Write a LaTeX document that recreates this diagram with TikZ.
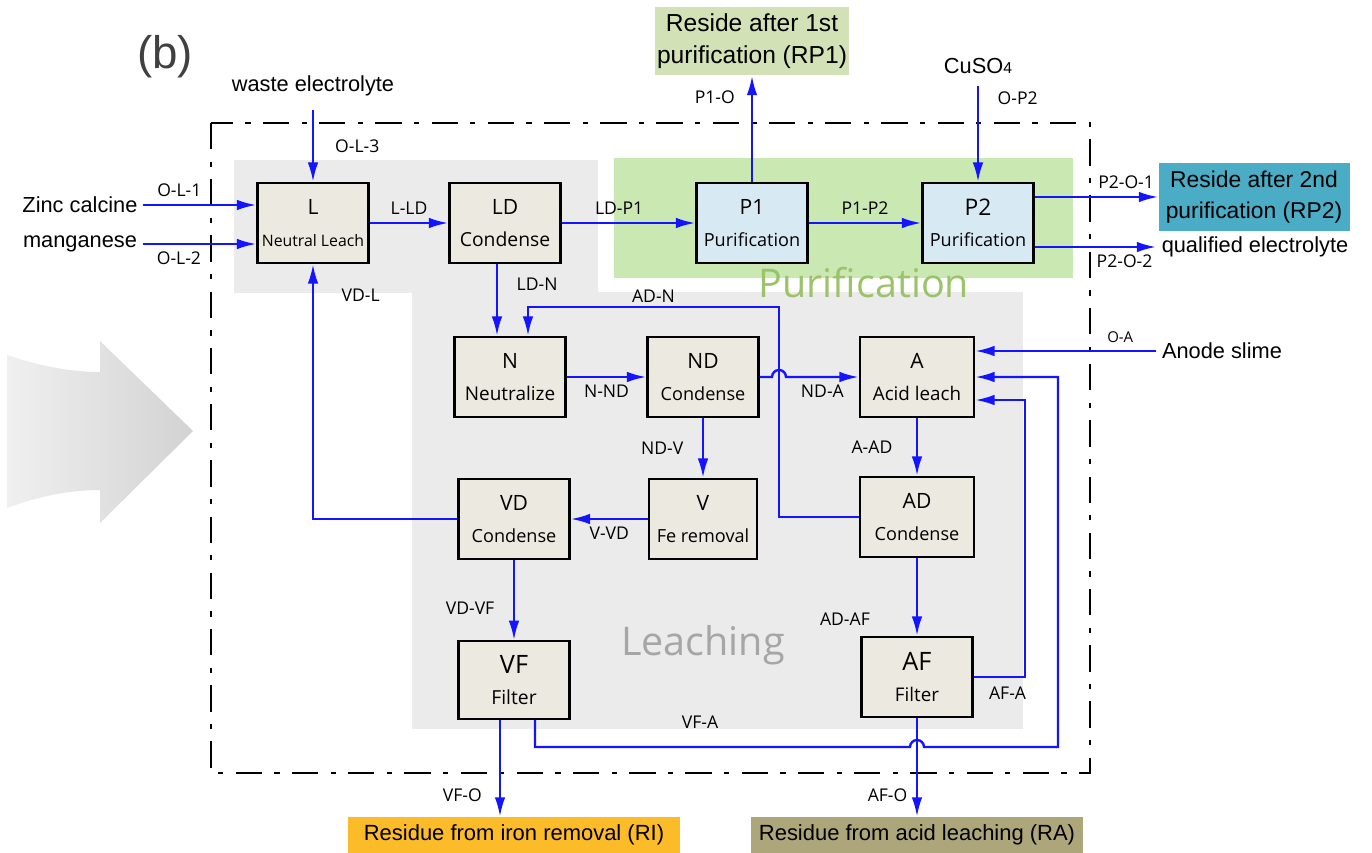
\documentclass[tikz,border=0pt]{standalone}
\usepackage{fontspec}
\setmainfont{Liberation Sans}
\newfontfamily\boxfont{Open Sans}
\usepackage{tikz}
\usetikzlibrary{arrows.meta,calc,positioning}
\definecolor{stagefill}{RGB}{236,233,224}
\definecolor{purfill}{RGB}{215,234,243}
\definecolor{regiongray}{RGB}{235,235,235}
\definecolor{regiongreen}{RGB}{201,232,178}
\definecolor{purtext}{RGB}{155,195,106}
\definecolor{leachtext}{RGB}{166,166,166}
\definecolor{rponefill}{RGB}{211,226,182}
\definecolor{rptwofill}{RGB}{75,172,198}
\definecolor{rifill}{RGB}{252,187,40}
\definecolor{rafill}{RGB}{173,166,122}
\definecolor{streamblue}{RGB}{20,20,255}

\begin{document}
\begin{tikzpicture}[x=0.02cm, y=-0.02cm, >={Latex[length=11pt,width=6pt]},
	stage/.style={draw=black, line width=1.4pt, fill=stagefill, minimum width=2.22cm, minimum height=1.6cm, align=center, inner sep=1pt, font=\boxfont\fontsize{10.3}{18}\selectfont},
	purstage/.style={stage, fill=purfill},
	stream/.style={->, draw=streamblue, line width=1.35pt},
	streamlabel/.style={font=\boxfont\fontsize{10}{12}\selectfont, inner sep=2pt},
	sidetext/.style={font=\fontsize{12.4}{15}\selectfont, inner sep=3pt},
	outbox/.style={align=center, inner sep=0pt, font=\fontsize{13}{18}\selectfont},
	residue/.style={minimum width=6.66cm, minimum height=0.72cm, inner sep=0pt, font=\fontsize{12.5}{15}\selectfont},
	region/.style={font=\boxfont\fontsize{22.5}{26}\selectfont, anchor=base}]
	\useasboundingbox (0,0) rectangle (1372,852);

	\shade[left color=gray!12, right color=gray!35] (7,355) .. controls (40,366) and (70,372) .. (100,372) -- (100,341) -- (193,431) -- (100,523) -- (100,490) .. controls (70,490) and (40,496) .. (7,508) -- cycle;

	\fill[regiongray] (234,160) rectangle (598,293);
	\fill[regiongray] (412,292) rectangle (1023,729);
	\fill[regiongreen] (614,158) rectangle (1073,278);
	\draw[line width=1.3pt, dash pattern=on 15pt off 7pt on 3pt off 7pt] (211,123) rectangle (1090,773);

	\node[region, text=purtext] (purlabel) at (864,297) {Purification};
	\node[region, text=leachtext] (leachlabel) at (703,655) {Leaching};
	\node[font=\fontsize{26}{30}\selectfont, text=black!75] (tag) at (165,57) {(b)};

	\node[stage] (L) at (313,223) {{\large L}\\{\fontsize{9}{18}\selectfont Neutral Leach}};
	\node[stage] (LD) at (505,223) {{\large LD}\\{\fontsize{11}{18}\selectfont Condense}};
	\node[purstage] (P1) at (752,223) {{\large P1}\\Purification};
	\node[purstage] (P2) at (978,223) {{\fontsize{13}{16}\selectfont P2}\\Purification};
	\node[stage] (N) at (510,377) {{\large N}\\{\fontsize{10.8}{18}\selectfont Neutralize}};
	\node[stage] (ND) at (703,377) {{\large ND}\\Condense};
	\node[stage, minimum width=2.28cm] (A) at (917,377) {{\large A}\\{\fontsize{10.7}{18}\selectfont Acid leach}};
	\node[stage] (VD) at (514,519) {{\large VD}\\Condense};
	\node[stage, minimum width=2.16cm] (V) at (703,519) {{\large V}\\Fe removal};
	\node[stage, minimum width=2.28cm] (AD) at (917,517) {{\large AD}\\Condense};
	\node[stage, minimum height=1.55cm] (VF) at (514,680) {{\Large VF}\\{\fontsize{11}{18}\selectfont Filter}};
	\node[stage] (AF) at (917,677) {{\Large AF}\\{\fontsize{10.7}{18}\selectfont Filter}};

	\node[sidetext] (waste) at (313,86) {waste electrolyte};
	\node[sidetext] (zinc) at (80,205) {Zinc calcine};
	\node[sidetext] (mang) at (80,244) {manganese};
	\node[sidetext] (cuso) at (978,66) {CuSO{\fontsize{9}{9}\selectfont 4}};
	\node[sidetext] (anode) at (1222,351) {Anode slime};
	\node[sidetext] (qual) at (1255,247) {qualified electrolyte};
	\node[outbox, fill=rponefill, minimum width=3.9cm, minimum height=1.38cm, font=\fontsize{14}{18}\selectfont] (RP1) at (752,41) {Reside after 1st\\purification (RP1)};
	\node[outbox, fill=rptwofill, minimum width=3.82cm, minimum height=1.36cm] (RP2) at (1254,197) {Reside after 2nd\\purification (RP2)};
	\node[residue, fill=rifill] (RI) at (514,835) {Residue from iron removal (RI)};
	\node[residue, fill=rafill] (RA) at (917,835) {Residue from acid leaching (RA)};

	\coordinate (wasteend) at (313,110);
	\coordinate (cusoend) at (978,86);
	\coordinate (ldn) at ($(LD.south)+(-8,0)$);
	\coordinate (jadn) at (779,307);
	\coordinate (nin) at ($(N.north)+(18,0)$);
	\coordinate (hopa) at ($(jadn |- ND.east)+(-7,0)$);
	\coordinate (jafa) at (1025,400);
	\coordinate (vfa) at ($(VF.south)+(21,0)$);
	\coordinate (jvfa) at (1058,747);
	\coordinate (hopb) at ($(AF.south |- jvfa)+(-7,0)$);
	\coordinate (vfo) at ($(VF.south)+(-14,0)$);

	\draw[stream] (zinc.east) -- node[streamlabel, above=2pt, pos=0.32]{O-L-1} (zinc.east -| L.west);
	\draw[stream] (mang.east) -- node[streamlabel, below=2pt, pos=0.32]{O-L-2} (mang.east -| L.west);
	\draw[stream] (wasteend) -- node[streamlabel, right=0.35cm]{O-L-3} (L);
	\draw[stream] (L) -- node[streamlabel, above=2pt]{L-LD} (LD);
	\draw[stream] (LD) -- node[streamlabel, above=2pt, pos=0.43]{LD-P1} (P1);
	\draw[stream] (P1) -- node[streamlabel, above=2pt]{P1-P2} (P2);
	\draw[stream] (P1) -- node[streamlabel, left=0.25cm, pos=0.8]{P1-O} (RP1);
	\draw[stream] (cusoend) -- node[streamlabel, right=0.3cm, pos=0.13]{O-P2} (P2);
	\draw[stream] (P2.east |- RP2.west) -- node[streamlabel, above=2pt, pos=0.74]{P2-O-1} (RP2.west);
	\draw[stream] (P2.east |- qual.west) -- node[streamlabel, below=2pt, pos=0.74]{P2-O-2} (qual.west);
	\draw[stream] (ldn) -- node[streamlabel, right=0.3cm, pos=0.28]{LD-N} (ldn |- N.north);
	\draw[stream] (AD.west) -| (jadn) -| node[streamlabel, above=0pt, pos=0.25]{AD-N} (nin);
	\draw[stream] (N) -- node[streamlabel, below=2pt]{N-ND} (ND);
	\draw[stream] (ND.east) -- (hopa) arc[start angle=180, end angle=0, radius=0.14cm] -- node[streamlabel, below=2pt]{ND-A} (A.west);
	\draw[stream] (ND) -- node[streamlabel, left=0.3cm]{ND-V} (V);
	\draw[stream] (A) -- node[streamlabel, left=0.4cm]{A-AD} (AD);
	\draw[stream] (V) -- node[streamlabel, below=2pt]{V-VD} (VD);
	\draw[stream] (VD.west) -| node[streamlabel, right=0.48cm, pos=0.94]{VD-L} (L.south);
	\draw[stream] (VD) -- node[streamlabel, left=0.3cm, pos=0.6]{VD-VF} (VF);
	\draw[stream] (AD) -- node[streamlabel, left=0.85cm, pos=0.78]{AD-AF} (AF);
	\draw[stream] (AF.east) -| node[streamlabel, below=3pt, pos=0.33]{AF-A} (jafa) -- (jafa -| A.east);
	\draw[stream] (vfa) |- node[streamlabel, above=8pt, pos=0.72]{VF-A} (hopb) arc[start angle=180, end angle=0, radius=0.14cm] -- (jvfa) |- (A.east);
	\draw[stream] (anode.west) -- node[streamlabel, above=2pt, pos=0.2, font=\boxfont\fontsize{8.5}{10}\selectfont]{O-A} (anode.west -| A.east);
	\draw[stream] (vfo) -- node[streamlabel, left=0.27cm, pos=0.78]{VF-O} (vfo |- RI.north);
	\draw[stream] (AF) -- node[streamlabel, left=0.1cm, pos=0.78]{AF-O} (RA);
\end{tikzpicture}
\end{document}
